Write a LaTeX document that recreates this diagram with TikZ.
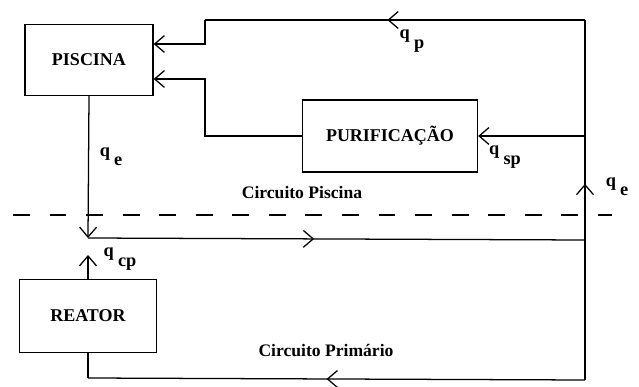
\documentclass[tikz,border=0pt]{standalone}
\usepackage{fontspec}
\setmainfont{Liberation Serif}
\usetikzlibrary{arrows.meta}
\usetikzlibrary{decorations.markings, math}
\usetikzlibrary{positioning}

\newcommand{\qsub}[1]{q\hspace{3pt}\raisebox{-1.1ex}{#1}}

\tikzset{
  box/.style={draw, line width=0.9pt, inner sep=0pt, font=\bfseries\fontsize{12.8}{14}\selectfont},
  flow/.style={line width=0.9pt},
  tip/.style={-{Straight Barb[length=7pt,width=12pt,line width=0.9pt]}},
  midarrow/.style={decoration={markings, mark=at position #1 with {\arrow{Straight Barb[length=7pt,width=12pt,line width=0.9pt]}}}, postaction={decorate}},
  qlabel/.style={font=\bfseries\fontsize{13}{14}\selectfont, inner sep=0pt},
  circlabel/.style={font=\bfseries\fontsize{12.5}{14}\selectfont, inner sep=0pt}
}

\begin{document}
\begin{tikzpicture}[x=0.025cm, y=-0.025cm]
\tikzmath{
\xr=585;
\xj=205;
}
\useasboundingbox (0,0) rectangle (639,387);

% blocos
\node[box, minimum width=3.2cm, minimum height=1.775cm] (piscina) at (89,60) {PISCINA};
\node[box, minimum width=4.375cm, minimum height=1.8cm] (purif) at (390,136) {PURIFICAÇÃO};
\node[box, minimum width=3.425cm, minimum height=1.825cm] (reator) at (88,316) {REATOR};

\coordinate (rtop) at (\xr,20);
\coordinate (rbot) at (\xr,380);
\coordinate (jtop) at (\xj,20);
\coordinate (topin) at (\xj,44);
\coordinate (botin) at (\xj,79);
\coordinate (rsp) at (\xr,136);
\coordinate (jl) at (88,238);
\coordinate (jr) at (\xr,240);
\coordinate (cp) at (88,255);
\coordinate (lb) at (88,378);

% circuito piscina
\draw[flow, midarrow=0.52] (rtop) -- (jtop);
\draw[flow, tip] (jtop) -- (topin) -- (piscina.east |- topin);
\draw[flow, tip] (purif.west) -| (botin) -- (piscina.east |- botin);
\draw[flow, tip] (rsp) -- (purif.east);
\draw[flow, midarrow=0.545] (rbot) -- (rtop);
\draw[flow, tip] (piscina.south) -- (jl);
\draw[flow, midarrow=0.455] (jl) -- (jr);

% circuito primario
\draw[flow, tip] (reator.north) -- (cp);
\draw[flow, midarrow=0.52] (rbot) -- (lb);
\draw[flow] (lb) -- (reator.south);

\draw[line width=0.8pt, dash pattern=on 12pt off 14pt] (13,215) -- (612,215);

\node[qlabel] (qp) at (412,41) {\qsub{p}};
\node[qlabel] (qsp) at (505,157) {\qsub{sp}};
\node[qlabel] (qer) at (617,187) {\qsub{e}};
\node[qlabel] (qel) at (111,157) {\qsub{e}};
\node[qlabel] (qcp) at (120,259) {\qsub{cp}};
\node[circlabel] (cpis) at (302,193) {Circuito Piscina};
\node[circlabel] (cpri) at (326,350) {Circuito Primário};
\end{tikzpicture}
\end{document}
